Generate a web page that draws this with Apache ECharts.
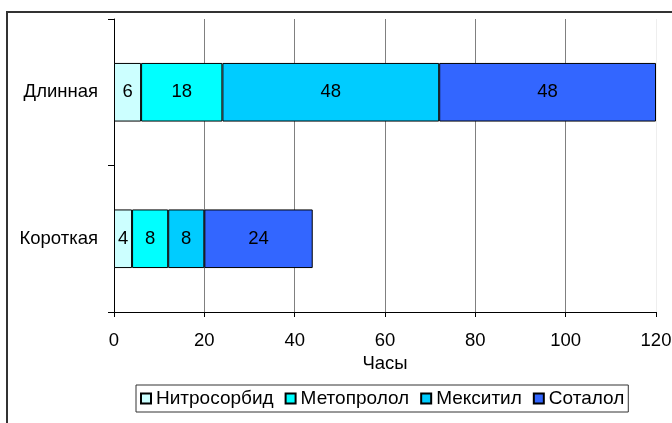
<!DOCTYPE html>
<html>
<head>
<meta charset="utf-8">
<script src="https://cdn.jsdelivr.net/npm/echarts@6/dist/echarts.min.js"></script>
<style>
  html, body { margin: 0; padding: 0; background: #fff; }
  #chart { width: 672px; height: 423px; }
</style>
</head>
<body>
<div id="chart"></div>
<script>
// Categories (bottom to top) and series values, hours
const categories = ['Короткая', 'Длинная'];
const seriesNames = ['Нитросорбид', 'Метопролол', 'Мекситил', 'Соталол'];
const nitrosorbid = [4, 6];
const metoprolol = [8, 18];
const meksitil = [8, 48];
const sotalol = [24, 48];
const xTicks = [0, 20, 40, 60, 80, 100, 120];
const axisTitle = 'Часы';

const seriesValues = [nitrosorbid, metoprolol, meksitil, sotalol];
const colors = ['#CCFFFF', '#00FFFF', '#00CCFF', '#3366FF'];
const font = 'Arial, "Liberation Sans", sans-serif';
const fs = 18.5;

const chart = echarts.init(document.getElementById('chart'));

chart.setOption({
  animation: false,
  textStyle: { fontFamily: font },
  grid: {
    left: 114, right: 16, top: 19, bottom: 111,
    containLabel: false,
    outerBoundsMode: 'none'
  },
  graphic: [{
    type: 'rect',
    shape: { x: 7, y: 12, width: 700, height: 450 },
    style: { fill: 'none', stroke: '#333', lineWidth: 2 },
    silent: true
  }],
  xAxis: {
    type: 'value',
    min: xTicks[0],
    max: xTicks[xTicks.length - 1],
    interval: 20,
    name: axisTitle,
    nameLocation: 'middle',
    nameGap: 35,
    nameTextStyle: { fontSize: fs, color: '#000', fontFamily: font },
    axisLine: { show: true, lineStyle: { color: '#000', width: 1 } },
    axisTick: { show: true, length: 5, lineStyle: { color: '#000' } },
    axisLabel: { fontSize: fs, color: '#000', margin: 19, fontFamily: font },
    splitLine: {
      show: true,
      lineStyle: {
        color: ['#808080', '#808080', '#808080', '#808080', '#808080', '#808080', '#eeeeee'],
        width: 1
      }
    }
  },
  yAxis: {
    type: 'category',
    data: categories,
    axisLine: { show: true, lineStyle: { color: '#000', width: 1 } },
    axisTick: { show: true, length: 6, lineStyle: { color: '#000' } },
    axisLabel: { fontSize: fs, color: '#000', margin: 16, fontFamily: font },
    splitLine: { show: false }
  },
  legend: {
    data: seriesNames,
    left: 136,
    top: 385,
    icon: 'rect',
    itemWidth: 10,
    itemHeight: 10,
    itemGap: 11,
    padding: [4, 4, 4, 4],
    borderColor: '#333',
    borderWidth: 1,
    textStyle: { fontSize: 19, color: '#000', fontFamily: font },
    selectedMode: false
  },
  series: seriesNames.map((name, i) => ({
    name: name,
    type: 'bar',
    stack: 'total',
    data: seriesValues[i],
    barWidth: '40%',
    itemStyle: { color: colors[i], borderColor: '#000', borderWidth: 1 },
    label: {
      show: true,
      position: 'inside',
      fontSize: fs,
      color: '#000',
      fontFamily: font
    }
  }))
});
</script>
</body>
</html>
